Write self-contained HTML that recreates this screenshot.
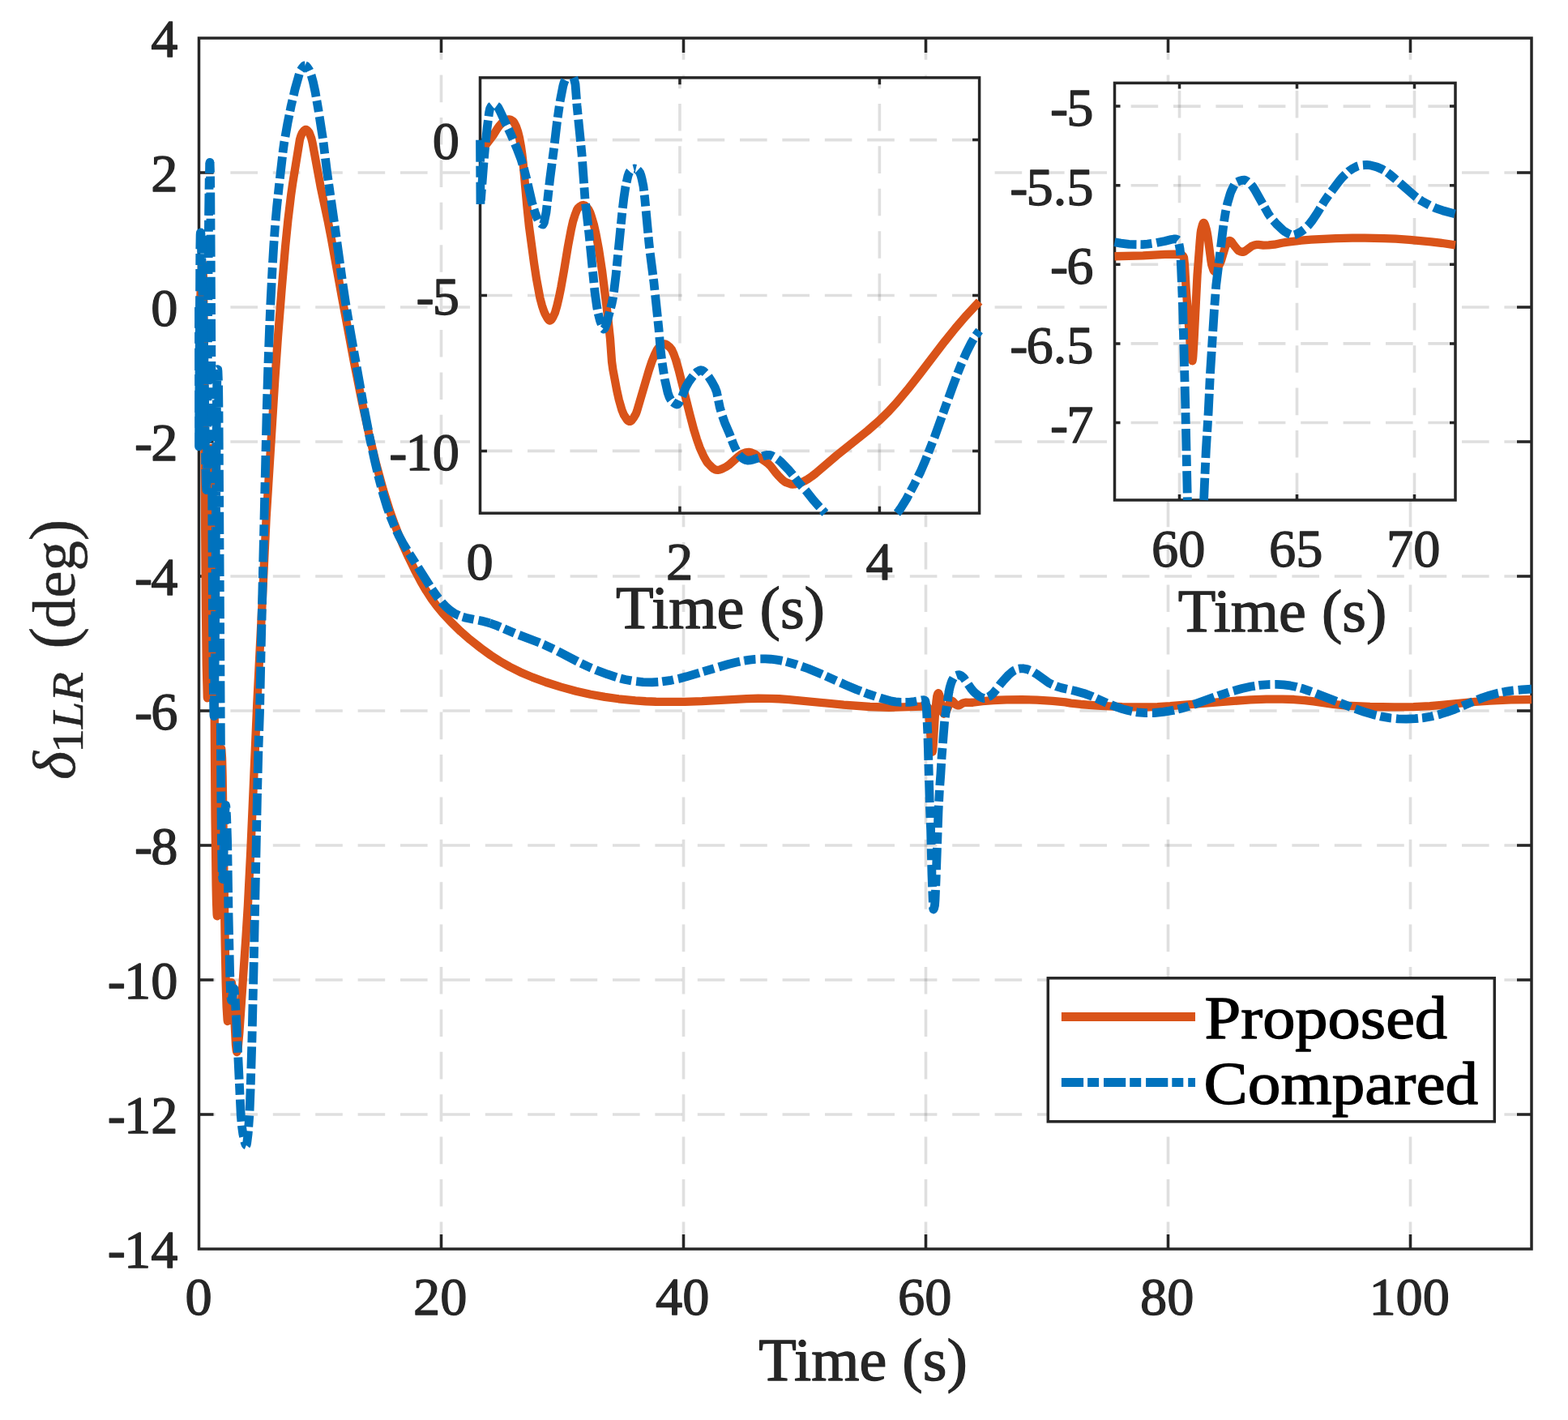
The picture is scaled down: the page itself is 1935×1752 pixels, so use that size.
<!DOCTYPE html><html><head><meta charset="utf-8"><title>Figure</title><style>html,body{margin:0;padding:0;background:#fff}svg{display:block}</style></head><body><svg xmlns="http://www.w3.org/2000/svg" width="1935" height="1752" viewBox="0 0 1935 1752" font-family='"Liberation Serif", "DejaVu Serif", serif'><rect width="1935" height="1752" fill="#fff"/><g id="main"><g stroke="#262626" stroke-opacity="0.15" stroke-width="3.6" stroke-dasharray="33.6 18.8" fill="none"><line x1="544.5" y1="1541" x2="544.5" y2="47"/><line x1="843.5" y1="1541" x2="843.5" y2="47"/><line x1="1142.5" y1="1541" x2="1142.5" y2="47"/><line x1="1441.5" y1="1541" x2="1441.5" y2="47"/><line x1="1740.5" y1="1541" x2="1740.5" y2="47"/><line x1="1890" y1="213" x2="245.5" y2="213"/><line x1="1890" y1="379" x2="245.5" y2="379"/><line x1="1890" y1="545" x2="245.5" y2="545"/><line x1="1890" y1="711" x2="245.5" y2="711"/><line x1="1890" y1="877" x2="245.5" y2="877"/><line x1="1890" y1="1043" x2="245.5" y2="1043"/><line x1="1890" y1="1209" x2="245.5" y2="1209"/><line x1="1890" y1="1375" x2="245.5" y2="1375"/></g><g stroke="#262626" stroke-width="3.5" fill="none" stroke-linecap="butt" stroke-linejoin="miter"><rect x="245.5" y="47" width="1644.5" height="1494" fill="none"/><path d="M544.5,1541 v-18 M544.5,47 v18"/><path d="M843.5,1541 v-18 M843.5,47 v18"/><path d="M1142.5,1541 v-18 M1142.5,47 v18"/><path d="M1441.5,1541 v-18 M1441.5,47 v18"/><path d="M1740.5,1541 v-18 M1740.5,47 v18"/><path d="M245.5,213 h18 M1890,213 h-18"/><path d="M245.5,379 h18 M1890,379 h-18"/><path d="M245.5,545 h18 M1890,545 h-18"/><path d="M245.5,711 h18 M1890,711 h-18"/><path d="M245.5,877 h18 M1890,877 h-18"/><path d="M245.5,1043 h18 M1890,1043 h-18"/><path d="M245.5,1209 h18 M1890,1209 h-18"/><path d="M245.5,1375 h18 M1890,1375 h-18"/></g><path d="M245.5,404.73 L246.4,391.45 L248.34,342.25 L249.08,329.48 L249.54,325.27 L249.81,324.29 L249.99,324.81 L250.43,329.31 L250.88,342.66 L251.78,416.17 L252.83,608.97 L253.93,749.67 L254.77,821.1 L255.82,860.26 L255.97,861.24 L256.11,859.72 L256.41,851.54 L257.01,821.54 L259.1,620.42 L259.85,571.94 L260.24,559.36 L260.9,552.95 L261.35,556.45 L261.8,566.38 L262.54,605.99 L263.44,689.23 L265.53,1006.9 L266.58,1091.46 L267.03,1112.75 L267.63,1128.08 L267.88,1130.28 L268.07,1129.06 L268.82,1109.93 L270.92,985.88 L271.81,944.82 L272.56,928.13 L273.01,923.7 L273.16,923.59 L273.31,924.26 L274.07,935.65 L274.65,958.37 L277.71,1164.88 L278.68,1212.46 L279.65,1242.74 L280.63,1258.31 L280.93,1259.99 L281.38,1258.97 L282.58,1248.62 L284.67,1217.45 L285.42,1212.54 L285.72,1212.05 L286.01,1212.96 L286.61,1217.19 L288.7,1244.03 L290.95,1288.93 L291.7,1295.79 L292.29,1298.1 L292.89,1296.57 L293.79,1291.44 L295.28,1275.15 L303.43,1156.23 L305.9,1117.06 L309.19,1052.13 L317.26,868.6 L324.14,733.35 L328.62,638.99 L339.39,466.82 L342.97,415.61 L347.61,356.79 L352.09,304.5 L355.38,271.83 L359.12,240.75 L361.21,226.11 L370.03,171.92 L371.38,167.57 L373.02,163.9 L375.12,161.27 L376.91,159.98 L377.96,160 L379,160.63 L380.8,162.5 L381.69,163.89 L384.2,170.5 L385.58,176.13 L395.9,231.8 L404.72,273.2 L408.46,292.16 L421.61,364.71 L437.01,447.36 L447.32,498.73 L455.4,535.91 L464.52,573.63 L472.89,604.38 L481.11,630.48 L486.2,644.82 L490.53,656.2 L496.81,671.29 L504.28,687.77 L512.21,704.01 L519.53,717.81 L525.96,728.79 L532.54,738.84 L539.27,747.98 L546.74,757 L557.06,768.08 L568.57,779.18 L579.93,789.02 L593.69,799.85 L605.65,808.52 L617.01,815.87 L629.12,822.76 L641.97,829.15 L657.07,835.64 L673.67,841.76 L692.21,847.65 L710.89,852.71 L728.68,856.72 L746.33,859.92 L763.37,862.26 L784,864.32 L797.01,865.26 L809.56,865.77 L826.01,865.97 L845.14,865.88 L866.37,865.19 L921.39,862.08 L935.59,861.74 L949.65,861.82 L961.46,862.25 L973.57,863.08 L1041.14,869.64 L1073.58,871.99 L1097.05,872.75 L1113.95,872.47 L1137.27,871.62 L1140.86,871.63 L1143.79,871.98 L1144.59,872.34 L1145.23,873.05 L1145.64,875.3 L1149.53,921.02 L1150.27,926.19 L1150.75,927.6 L1151.17,925 L1151.78,916.84 L1153.86,882.55 L1155.51,864.81 L1156.25,859.05 L1157.15,856.2 L1157.97,855.14 L1158.35,855.41 L1158.94,856.63 L1160.14,860.5 L1162.98,877.1 L1164.03,879.75 L1164.92,880.7 L1165.52,880.42 L1166.12,879.76 L1168.51,876.1 L1172.4,866.13 L1173.6,864.89 L1174.49,864.5 L1175.54,865.02 L1179.88,869.65 L1182.57,870.45 L1184.06,870.08 L1188.4,867.44 L1191.54,866.61 L1196.02,866.96 L1200.36,866.77 L1212.32,865.12 L1225.62,864.02 L1242.37,863.3 L1261.05,863.11 L1279.44,863.54 L1299.18,864.85 L1314.72,866.39 L1321.6,867.58 L1333.71,868.99 L1358.53,870.87 L1384.84,872.07 L1412.05,872.36 L1428.34,872.06 L1444.19,871.22 L1505.79,866.03 L1543.01,863.47 L1562.74,862.65 L1582.63,862.55 L1596.98,863.02 L1610.14,864.03 L1621.2,865.38 L1645.27,868.97 L1661.71,870.55 L1690.57,872 L1720.77,872.38 L1744.24,872.04 L1764.57,871.09 L1779.22,869.89 L1820.33,865.79 L1838.42,864.49 L1864.59,863.38 L1890,863.03" fill="none" stroke="#D95319" stroke-width="10.3" stroke-linejoin="round" stroke-linecap="butt"/><g fill="none" stroke="#0072BD" stroke-width="10.8" stroke-linejoin="round" stroke-linecap="butt" stroke-dasharray="27.2 5 14 5.9"><path d="M245.5,379 L245.56,550.81 L246.85,305.98 L247.14,289.75 L247.32,287.31 L247.74,286.87 L247.89,287.59 L248.49,302.48 L251.03,402.75 L252.08,456.56 L253.72,573.4 L254.32,597.28 L254.92,604.72 L255.39,572.34 L257.57,265.25 L258.21,219.69 L258.81,202.05 L258.95,200.37 L259.1,201.7" stroke-dashoffset="1.38"/><path d="M258.95,200.37 L259.4,209.37 L259.76,230.65 L262.54,764.62 L263.14,839.49 L263.89,881.83 L264.04,883.6 L264.19,880.23 L264.49,866.45 L265.38,801.31 L267.48,486.38 L267.93,463.4 L268.52,455.72 L268.67,455.63 L268.97,457.95 L269.57,473.29 L270.02,511.46 L272.71,968.54 L273.34,1035.13 L274.05,1072.22 L274.5,1081 L274.95,1084.79 L275.1,1084.18 L277.19,1012.93 L277.94,998.51 L278.54,993.48 L278.84,994.73 L279.59,1007.64 L280.63,1038.52 L282.07,1130.93 L283.62,1199.44 L284.52,1224.34 L285.12,1231.92 L285.57,1234.29 L286.46,1231.66 L288.41,1220.08 L288.7,1219.6 L288.86,1219.84 L289.3,1222.84 L290.2,1232.98 L291.55,1256.5 L297.28,1376.6 L298.57,1390.31 L299.77,1398.79 L302.16,1409.67 L303.06,1412.15 L303.51,1412.81 L303.95,1412.99" stroke-dashoffset="14.94"/><path d="M303.81,1412.99 L304.25,1412.44 L304.7,1410.36 L306.2,1398.24 L307.92,1374.65 L309.19,1341.51 L310.98,1281.56 L313.22,1186.65 L317.51,978.9 L318.9,925.06 L320.55,877.65 L322,807.8 L329.37,499.48" stroke-dashoffset="9.31"/><path d="M329.22,504.85 L330.7,456 L332.51,406.47 L334,371.97 L336.1,331.25 L337.89,301.21 L339.69,276.44 L341.63,255.06 L344.62,226.97 L349.25,186.42 L350.6,176.52 L354.93,151.99 L359.12,131.12 L364.05,110.08 L369.58,90.34 L370.93,87.07 L373.47,83.12 L375.12,81.38 L375.86,80.99 L376.61,80.91" stroke-dashoffset="27.6"/><path d="M376.46,80.9 L377.81,81.48 L379.3,83.08 L381.69,86.76 L382.89,89.33 L384.39,93.81 L386.33,100.96 L389.02,113.24 L393.06,136.61 L398.74,173.01 L403.22,209.64 L413.54,281.69 L422.66,348.03 L426.99,376.75 L432.38,409.01 L448.67,500.6 L456.74,542.17 L462.42,568.29 L467.81,590.9 L472.89,609.98 L477.82,626.09 L481.86,637.46 L487.24,650.54 L491.73,660.06 L496.81,669.44 L502.49,678.81 L532.84,726.58 L539.57,736.25 L545.7,743.82 L550.63,748.93 L555.71,753.27 L560.8,756.7 L566.18,759.42 L570.21,760.93 L574.85,762.25 L594.28,766.08 L604.45,768.8" stroke-dashoffset="37.56"/><path d="M604.3,768.76 L613.87,772.2 L637.79,782.36 L661.86,791.47 L672.32,795.8 L685.33,801.98 L715.98,817.94 L725.54,822.39 L735.71,826.68 L749.61,831.97 L760.98,835.71 L771.59,838.45 L782.21,840.41 L793.57,841.63 L804.63,841.85 L816.29,841.07 L828.25,839.32 L837.22,837.41 L847.09,834.83 L898.82,819.51 L908.98,816.99 L918.4,815.09" stroke-dashoffset="13.11"/><path d="M918.25,815.12 L925.28,814.04 L931.85,813.33 L938.28,812.96 L944.56,812.93 L950.84,813.24 L956.97,813.89 L963.25,814.9 L969.83,816.29 L983.13,819.98 L997.49,825.03 L1012.58,831.24 L1043.53,845.06 L1056.99,850.77 L1071.34,856.25 L1086.59,861.27 L1100.34,865.09 L1105.12,865.88 L1111.11,866.47 L1122.17,866.33 L1128.45,865.55 L1137.87,863.79 L1140.11,863.67 L1141.6,864.26 L1142.65,868.03" stroke-dashoffset="31.89"/><path d="M1142.5,867.35 L1143.1,870.89 L1143.4,874.49 L1144.87,905.57 L1147.43,995.43 L1148.63,1024.43 L1149.97,1079.04 L1151.47,1118.2 L1151.62,1120.76 L1151.92,1121.97 L1152.67,1120.56 L1153.5,1117 L1154.01,1110.56 L1155.06,1085.96 L1158.02,1000.61 L1159.39,974.67 L1160.89,954.59 L1162.09,933.98 L1165.67,889.22 L1171.06,853.15" stroke-dashoffset="8.58"/><path d="M1170.9,853.98 L1172.25,847.75 L1173.6,843.17 L1175.09,839.28 L1176.74,836.33 L1177.93,834.66 L1178.83,833.9 L1181.67,832.9 L1183.91,832.73 L1186.15,833.73 L1189.14,836.17 L1199.16,850.56 L1201.25,852.99 L1203.94,855.55 L1208.28,859 L1211.27,860.56 L1214.26,861.49 L1216.65,861.19 L1220.99,859.18 L1225.32,855.7 L1230.11,850.08 L1234.74,843.83 L1237.58,840.42 L1244.61,832.75 L1248.35,829.45 L1251.49,827.3 L1255.52,825.49 L1258.21,824.96 L1262.4,824.77 L1268.23,825.88 L1273.46,828.01 L1278.84,831.48 L1293.79,842.16 L1297.83,844.3 L1303.51,846.75 L1309.64,848.63 L1326.83,852.5 L1337.45,855.44 L1347.17,859.02 L1368.1,868.39 L1379.01,872.67 L1385.59,874.83 L1391.87,876.57 L1397.85,877.9 L1403.68,878.85 L1413.69,879.65 L1424.46,879.5 L1435.67,878.44 L1447.78,876.42 L1457.05,874.3 L1466.32,871.63 L1507.28,857.03 L1520.59,852.83 L1532.7,849.5 L1543.91,847.02 L1554.37,845.42 L1564.99,844.54 L1575.45,844.43 L1584.12,844.92 L1592.2,845.94 L1599.97,847.51 L1608.19,849.79 L1622.84,854.99 L1671.13,874.04 L1683.54,878.34 L1694.75,881.66 L1705.37,884.15 L1715.68,885.89 L1725.4,886.83 L1735.72,887.1 L1746.48,886.72 L1756.5,885.69 L1766.21,883.99 L1776.23,881.5 L1785.35,878.66 L1795.22,875.07 L1821.53,864.02 L1829.6,860.86 L1838.42,857.92 L1847.39,855.5 L1857.26,853.46 L1867.58,851.91 L1878.49,850.83 L1890,850.23" stroke-dashoffset="8.79"/></g><text x="219.5" y="69.8" font-size="66.4" text-anchor="end" fill="#262626" stroke="#262626" stroke-width="1.3" stroke-linejoin="round">4</text><text x="219.5" y="235.8" font-size="66.4" text-anchor="end" fill="#262626" stroke="#262626" stroke-width="1.3" stroke-linejoin="round">2</text><text x="219.5" y="401.8" font-size="66.4" text-anchor="end" fill="#262626" stroke="#262626" stroke-width="1.3" stroke-linejoin="round">0</text><text x="219.5" y="567.8" font-size="66.4" text-anchor="end" fill="#262626" stroke="#262626" stroke-width="1.3" stroke-linejoin="round">-<tspan dx="-1.8">2</tspan></text><text x="219.5" y="733.8" font-size="66.4" text-anchor="end" fill="#262626" stroke="#262626" stroke-width="1.3" stroke-linejoin="round">-<tspan dx="-1.8">4</tspan></text><text x="219.5" y="899.8" font-size="66.4" text-anchor="end" fill="#262626" stroke="#262626" stroke-width="1.3" stroke-linejoin="round">-<tspan dx="-1.8">6</tspan></text><text x="219.5" y="1065.8" font-size="66.4" text-anchor="end" fill="#262626" stroke="#262626" stroke-width="1.3" stroke-linejoin="round">-<tspan dx="-1.8">8</tspan></text><text x="219.5" y="1231.8" font-size="66.4" text-anchor="end" fill="#262626" stroke="#262626" stroke-width="1.3" stroke-linejoin="round">-<tspan dx="-1.8">10</tspan></text><text x="219.5" y="1397.8" font-size="66.4" text-anchor="end" fill="#262626" stroke="#262626" stroke-width="1.3" stroke-linejoin="round">-<tspan dx="-1.8">12</tspan></text><text x="219.5" y="1563.8" font-size="66.4" text-anchor="end" fill="#262626" stroke="#262626" stroke-width="1.3" stroke-linejoin="round">-<tspan dx="-1.8">14</tspan></text><text x="245.2" y="1621.8" font-size="66.4" text-anchor="middle" fill="#262626" stroke="#262626" stroke-width="1.3" stroke-linejoin="round">0</text><text x="543.2" y="1621.8" font-size="66.4" text-anchor="middle" fill="#262626" stroke="#262626" stroke-width="1.3" stroke-linejoin="round">20</text><text x="842.2" y="1621.8" font-size="66.4" text-anchor="middle" fill="#262626" stroke="#262626" stroke-width="1.3" stroke-linejoin="round">40</text><text x="1141.2" y="1621.8" font-size="66.4" text-anchor="middle" fill="#262626" stroke="#262626" stroke-width="1.3" stroke-linejoin="round">60</text><text x="1440.2" y="1621.8" font-size="66.4" text-anchor="middle" fill="#262626" stroke="#262626" stroke-width="1.3" stroke-linejoin="round">80</text><text x="1739.2" y="1621.8" font-size="66.4" text-anchor="middle" fill="#262626" stroke="#262626" stroke-width="1.3" stroke-linejoin="round">100</text><text x="1065" y="1703.1" font-size="73.2" text-anchor="middle" fill="#262626" stroke="#262626" stroke-width="1.3" stroke-linejoin="round" textLength="257.5" lengthAdjust="spacingAndGlyphs">Time (s)</text><g transform="translate(92.4,0) rotate(-90)" fill="#262626" stroke="#262626" stroke-width="0.5"><text x="-962" y="0" font-size="75" font-style="italic">δ</text><text x="-929" y="10" font-size="54" textLength="100" lengthAdjust="spacingAndGlyphs">1<tspan font-style="italic">LR</tspan></text><text x="-800.5" y="0" font-size="80">(</text><text x="-775.3" y="0" font-size="75">deg</text><text x="-667.3" y="0" font-size="80">)</text></g></g><g id="inset1"><rect x="592.5" y="95.84" width="616.1" height="537.32" fill="#fff"/><g stroke="#262626" stroke-opacity="0.15" stroke-width="3.6" stroke-dasharray="33.6 18.8" fill="none"><line x1="838.94" y1="633.16" x2="838.94" y2="95.84"/><line x1="1085.38" y1="633.16" x2="1085.38" y2="95.84"/><line x1="1208.6" y1="172.6" x2="592.5" y2="172.6"/><line x1="1208.6" y1="364.5" x2="592.5" y2="364.5"/><line x1="1208.6" y1="556.4" x2="592.5" y2="556.4"/></g><g stroke="#262626" stroke-width="3.5" fill="none" stroke-linecap="butt" stroke-linejoin="miter"><rect x="592.5" y="95.84" width="616.1" height="537.32" fill="none"/><path d="M838.94,633.16 v-8.5 M838.94,95.84 v8.5"/><path d="M1085.38,633.16 v-8.5 M1085.38,95.84 v8.5"/><path d="M592.5,172.6 h8.5 M1208.6,172.6 h-8.5"/><path d="M592.5,364.5 h8.5 M1208.6,364.5 h-8.5"/><path d="M592.5,556.4 h8.5 M1208.6,556.4 h-8.5"/></g><path d="M592.5,184.5 L596.2,181.98 L599.89,178.36 L609,166.4 L613.45,159.17 L615.91,155.61 L619.61,151.54 L622,149.7 L625.77,147.75 L628,147.3 L629.47,147.54 L630.7,148.05 L633.16,149.62 L634.39,151.08 L636.86,155.8 L639.32,163.23 L641,170 L643.02,181.13 L644.25,189.79 L645.48,200 L650.41,254.73 L652.88,278.94 L659.04,324.61 L662,344 L666.43,367.7 L668.9,377.03 L671.36,384.34 L672.59,387.3 L675.06,391.78 L676.29,393.73 L677.52,395.14 L678.75,395.59 L679.99,394.89 L681.22,393.29 L682.45,391.11 L684.91,385.81 L687.38,377.24 L690,366 L692.31,354.72 L696,333.97 L700.93,303.91 L704.63,284.23 L707.09,273.14 L709.56,265.25 L712.02,258.93 L713.26,256.81 L715.72,254.68 L718.18,253.34 L720,253 L721.88,253.65 L723.11,254.65 L726,258 L728.04,261.87 L729.27,265.2 L732.97,277.56 L735.44,288.6 L739.13,308.44 L743,334 L750,390 L753,418 L755,446 L756.38,456.15 L761.31,482.09 L763.78,493.15 L767.47,505.98 L769.94,511.89 L773.63,517.64 L774.87,518.98 L776.1,519.81 L777.33,519.97 L778.56,519.44 L779.79,518.32 L782.26,514.88 L784.72,510.59 L785.96,507.41 L800.74,457.12 L804.44,446 L808.13,436.94 L810.6,431.93 L811.83,430.19 L815.53,426.52 L817.99,424.88 L819.22,424.48 L820.46,424.43 L822.92,425.35 L826.62,428.51 L829.08,431.55 L831.55,437.1 L834.01,444.03 L837.71,457.01 L851.26,511.15 L856.19,529.87 L859.89,541.85 L863.58,552.29 L868.51,563.24 L872.21,569.74 L874,572 L878.37,576.45 L880.83,578.46 L883.3,579.72 L885.76,579.97 L888.23,579.51 L890.69,578.61 L896,576 L899.32,573.79 L911.64,562.96 L914.1,561.04 L916,560 L920.27,558.36 L923.96,557.81 L927.66,558.62 L931.36,560.19 L936.7,564.3 L943.68,568.87 L947.37,571.56 L951.07,575.15 L957.23,583.1 L960.5,586.9 L965.86,592.3 L968.32,594.27 L970,595.2 L975.71,597.28 L978.18,597.6 L980.64,597.41 L984.34,596.56 L989.27,595.03 L992.96,593.36 L996.66,591.34 L1002,587.6 L1006.52,584.08 L1032.4,562.03 L1070.59,531.5 L1084.15,519.71 L1096.47,507.71 L1106.33,496.99 L1119.88,480.81 L1134.67,462 L1165.47,421.74 L1179.03,404.89 L1191.35,390.48 L1208.6,372" fill="none" stroke="#D95319" stroke-width="10.3" stroke-linejoin="round" stroke-linecap="butt"/><g fill="none" stroke="#0072BD" stroke-width="10.8" stroke-linejoin="round" stroke-linecap="butt" stroke-dasharray="27.2 5 14 5.9"><path d="M592.5,172.6 L592.99,252.05 L597,200 L598.66,181.35 L601.13,158 L603.59,138.83 L604.6,134 L606.05,131.33 L607.5,130.2 L611,130 L612.22,130.33 L614,131.6 L614.68,132.47 L617.14,137.22 L630.7,166.28 L638.09,183.58 L643.02,196.59 L646.72,208.46 L650.41,223.21 L656.57,250.05 L660.27,262.49 L662.74,268.69 L665.2,273.53 L667.66,275.97 L668.9,276.74 L670.13,276.98" stroke-dashoffset="0"/><path d="M668.9,276.74 L670.13,276.98 L671.36,274.62 L674,262 L678.75,220.11 L684,180 L687.38,150.82 L691.08,125.22 L694.77,106.29 L696,101.99 L697.24,98.93 L698.85,95.84" stroke-dashoffset="1.67"/><path d="M707.82,95.84 L708.33,97.03 L710,104 L712.02,130.27 L718,190 L722,246 L726.81,287.68 L734,360 L736.67,378.9 L738,386 L740.36,395.25 L744.06,405.11 L745,406 L745.29,405.93 L746.52,404.37" stroke-dashoffset="0"/><path d="M745.29,405.93 L746.52,404.37 L749,398 L755.15,374.04 L756.38,367.88 L757.61,359.62 L760.08,339.32 L768,260 L769.94,243.68 L772,230 L774.87,217.27 L776.1,213.59 L777,212 L778.56,210.35 L781.03,208.51 L783,208 L784.72,208.39" stroke-dashoffset="4.69"/><path d="M783.49,208.03 L784.72,208.39 L785.96,209.11 L788.42,211.35 L789.65,213.01 L790.88,216.2 L792.12,220.83 L794,230 L795.81,245.63 L800.74,298.26 L802,310 L806.9,347.99 L813,406 L815,430 L816.76,445.21 L820.46,468.62 L824.15,484.75 L826,490 L827.85,493.15 L830.31,496.19" stroke-dashoffset="47.99"/><path d="M830.31,496.19 L832.78,497.96 L835.24,498.97 L836.48,498.68 L837.71,497.17 L841.4,490.06 L846.4,477.5 L850.03,471.11 L854.96,464.18" stroke-dashoffset="34.41"/><path d="M853.73,465.73 L857.42,461.26 L859.89,459.07 L863.58,457.06 L864.82,456.74 L866.05,456.78 L867.28,457.32 L868.51,458.22 L872.21,461.75 L874.67,465.04 L878.37,470.93 L882.07,477.57 L884.4,483.5 L888.23,502.2 L890.69,510.89 L894.39,521.61 L900.55,535.88 L904.25,546.09 L906.71,551.98 L910.41,558.98 L911.7,560.8 L914.1,563.49 L916.57,565.53 L919.03,567 L920.27,567.61 L922.4,568.1 L925.19,567.87 L928.89,567.21 L936.28,564.84 L943.68,562.12 L947.37,561.36 L949.84,561.41 L952.3,562.2 L958.46,565.72 L960.93,567.49 L963.39,569.65 L973.25,579.73 L978.3,585.7 L985.57,595.41 L994.9,605.9 L1004.4,617.8 L1010.22,624.42 L1018.41,633.16" stroke-dashoffset="24.78"/><path d="M1106.84,633.16 L1108.79,630.96 L1111.26,627.53 L1118.65,615.57 L1128.51,597.22 L1136,582 L1142.06,567.8 L1153.15,539.61 L1175.33,477.81 L1181.49,461.32 L1186,450 L1192.58,435 L1198.74,422.8 L1203.67,414.49 L1208.6,408" stroke-dashoffset="0"/></g><text x="567" y="196.4" font-size="66.4" text-anchor="end" fill="#262626" stroke="#262626" stroke-width="1.3" stroke-linejoin="round">0</text><text x="567" y="388.3" font-size="66.4" text-anchor="end" fill="#262626" stroke="#262626" stroke-width="1.3" stroke-linejoin="round">-<tspan dx="-1.8">5</tspan></text><text x="567" y="580.2" font-size="66.4" text-anchor="end" fill="#262626" stroke="#262626" stroke-width="1.3" stroke-linejoin="round">-<tspan dx="-1.8">10</tspan></text><text x="592.2" y="714.9" font-size="66.4" text-anchor="middle" fill="#262626" stroke="#262626" stroke-width="1.3" stroke-linejoin="round">0</text><text x="838.64" y="714.9" font-size="66.4" text-anchor="middle" fill="#262626" stroke="#262626" stroke-width="1.3" stroke-linejoin="round">2</text><text x="1085.08" y="714.9" font-size="66.4" text-anchor="middle" fill="#262626" stroke="#262626" stroke-width="1.3" stroke-linejoin="round">4</text><text x="889" y="774.6" font-size="73.2" text-anchor="middle" fill="#262626" stroke="#262626" stroke-width="1.3" stroke-linejoin="round" textLength="258" lengthAdjust="spacingAndGlyphs">Time (s)</text></g><g id="inset2"><rect x="1375.5" y="102.4" width="420.5" height="514.6" fill="#fff"/><g stroke="#262626" stroke-opacity="0.15" stroke-width="3.6" stroke-dasharray="33.6 18.8" fill="none"><line x1="1455.5" y1="617" x2="1455.5" y2="102.4"/><line x1="1600.5" y1="617" x2="1600.5" y2="102.4"/><line x1="1745.5" y1="617" x2="1745.5" y2="102.4"/><line x1="1796" y1="131.1" x2="1375.5" y2="131.1"/><line x1="1796" y1="228.7" x2="1375.5" y2="228.7"/><line x1="1796" y1="326.3" x2="1375.5" y2="326.3"/><line x1="1796" y1="423.9" x2="1375.5" y2="423.9"/><line x1="1796" y1="521.5" x2="1375.5" y2="521.5"/></g><g stroke="#262626" stroke-width="3.5" fill="none" stroke-linecap="butt" stroke-linejoin="miter"><rect x="1375.5" y="102.4" width="420.5" height="514.6" fill="none"/><path d="M1455.5,617 v-7 M1455.5,102.4 v7"/><path d="M1600.5,617 v-7 M1600.5,102.4 v7"/><path d="M1745.5,617 v-7 M1745.5,102.4 v7"/><path d="M1375.5,131.1 h7 M1796,131.1 h-7"/><path d="M1375.5,228.7 h7 M1796,228.7 h-7"/><path d="M1375.5,326.3 h7 M1796,326.3 h-7"/><path d="M1375.5,423.9 h7 M1796,423.9 h-7"/><path d="M1375.5,521.5 h7 M1796,521.5 h-7"/></g><path d="M1375.5,316.27 L1410.55,315.28 L1437.52,313.9 L1449.41,313.6 L1453.76,313.8 L1457.82,314.46 L1458.98,314.9 L1460.14,315.98 L1461.01,317.71 L1462,326.7 L1463.62,355.21 L1469.13,429.83 L1470.58,441.98 L1471.16,444.79 L1471.5,445.3 L1472.03,442.55 L1472.32,439.18 L1473.5,420 L1477.54,339.35 L1480.73,297.64 L1481.6,288.09 L1482.18,284.09 L1483.92,277.39 L1484.79,275.44 L1485.37,274.92 L1485.66,274.93 L1486.24,275.53 L1487.11,277.53 L1488.56,282.2 L1489.43,285.98 L1490.59,292.64 L1494.36,321.33 L1495.23,326.54 L1497.26,332.76 L1498.13,334.39 L1499,335 L1500.16,334.35 L1501.32,332.78 L1504.22,327.91 L1505.96,324.18 L1507.12,320.95 L1511.76,305.41 L1513.5,300.74 L1514.2,299.6 L1515.82,297.81 L1516.69,297.16 L1517.56,296.9 L1518.43,297.14 L1519.59,298.13 L1523.07,302.96 L1528,309.01 L1530.9,310.4 L1533.51,310.9 L1534.96,310.62 L1536.41,309.85 L1544.53,303.82 L1548.01,302.46 L1550.33,301.89 L1552.94,301.87 L1559.03,302.69 L1565.7,302.42 L1572.66,301.69 L1581.94,299.72 L1587.16,298.87 L1605.72,296.62 L1617.9,295.7 L1648.64,294.09 L1668.94,293.67 L1684.31,293.63 L1707.51,294.06 L1722.3,294.72 L1739.41,295.86 L1766.09,298.39 L1781.75,300.25 L1796,302.42" fill="none" stroke="#D95319" stroke-width="10.3" stroke-linejoin="round" stroke-linecap="butt"/><g fill="none" stroke="#0072BD" stroke-width="10.8" stroke-linejoin="round" stroke-linecap="butt" stroke-dasharray="27.2 5 14 5.9"><path d="M1375.5,298.72 L1383,300.15 L1393.15,301.44 L1410.26,301.6 L1416.06,301.2 L1425.92,299.81 L1437.52,297.45 L1445.35,295.47 L1448.54,294.97 L1450.86,294.96 L1452.89,295.64 L1453.76,296.33 L1454.34,298.02 L1456.08,307.05 L1456.95,315.33 L1459.56,376.78 L1462.75,498.22 L1465.4,617" stroke-dashoffset="0"/><path d="M1485.6,617 L1488.27,555.99 L1491.17,508.77 L1493.49,460.47 L1498.42,382.74 L1500.74,351.94 L1510.02,276.42 L1512.34,261.9 L1514.9,250.2 L1518.14,239.17 L1519.3,236.17 L1521.91,230.65 L1523.36,228.02 L1524.81,225.99 L1526.2,224.8 L1529.74,223.15 L1532.64,222.32 L1535.25,222.11 L1536.99,222.55 L1538.73,223.48 L1543.66,227.55 L1545.98,230.27 L1548.59,234.37 L1564.83,263.19 L1567.44,267.14 L1570.34,270.91 L1575.85,277.05 L1583.68,284.44 L1585.71,285.86 L1590.35,288.38 L1592.67,289.35 L1594.7,289.83 L1596.73,289.83 L1599.05,289.22 L1605.72,285.79 L1610.07,282.46 L1615.29,277.23 L1619.06,272.41 L1625.44,262.99 L1634.43,248.3 L1639.36,241.08 L1652.99,222.96 L1655.89,219.5 L1659.08,216.19 L1664.59,211.12 L1669.23,208.02 L1675.32,204.94 L1677.64,204.25 L1680.25,203.87 L1686.6,203.4 L1690.98,203.86 L1699.1,205.98 L1705.48,208.8 L1709.83,211.27 L1714.18,214.5 L1721.14,220.23 L1746.66,242.5 L1750.14,245.21 L1754.2,247.86 L1764.35,253.45 L1771.89,256.89 L1782.04,260.29 L1796,264.08" stroke-dashoffset="0"/></g><text x="1349.5" y="155.1" font-size="66.4" text-anchor="end" fill="#262626" stroke="#262626" stroke-width="1.3" stroke-linejoin="round">-<tspan dx="-1.8">5</tspan></text><text x="1349.5" y="252.7" font-size="66.4" text-anchor="end" fill="#262626" stroke="#262626" stroke-width="1.3" stroke-linejoin="round">-<tspan dx="-1.8">5.5</tspan></text><text x="1349.5" y="350.3" font-size="66.4" text-anchor="end" fill="#262626" stroke="#262626" stroke-width="1.3" stroke-linejoin="round">-<tspan dx="-1.8">6</tspan></text><text x="1349.5" y="447.9" font-size="66.4" text-anchor="end" fill="#262626" stroke="#262626" stroke-width="1.3" stroke-linejoin="round">-<tspan dx="-1.8">6.5</tspan></text><text x="1349.5" y="545.5" font-size="66.4" text-anchor="end" fill="#262626" stroke="#262626" stroke-width="1.3" stroke-linejoin="round">-<tspan dx="-1.8">7</tspan></text><text x="1454.2" y="699.2" font-size="66.4" text-anchor="middle" fill="#262626" stroke="#262626" stroke-width="1.3" stroke-linejoin="round">60</text><text x="1599.2" y="699.2" font-size="66.4" text-anchor="middle" fill="#262626" stroke="#262626" stroke-width="1.3" stroke-linejoin="round">65</text><text x="1744.2" y="699.2" font-size="66.4" text-anchor="middle" fill="#262626" stroke="#262626" stroke-width="1.3" stroke-linejoin="round">70</text><text x="1582.6" y="779.1" font-size="73.2" text-anchor="middle" fill="#262626" stroke="#262626" stroke-width="1.3" stroke-linejoin="round" textLength="257.5" lengthAdjust="spacingAndGlyphs">Time (s)</text></g><g id="legend"><rect x="1293.3" y="1206.8" width="551" height="177" fill="#fff" stroke="#262626" stroke-width="3.5"/><path d="M1309.9,1254.5 H1475" stroke="#D95319" stroke-width="11" fill="none"/><path d="M1309.9,1335.4 H1475" stroke="#0072BD" stroke-width="11" fill="none" stroke-dasharray="27.2 5 14 5.9"/><text x="1486.6" y="1281" font-size="73.2" text-anchor="start" fill="#000" stroke="#000" stroke-width="1.3" stroke-linejoin="round" textLength="299.5" lengthAdjust="spacingAndGlyphs">Proposed</text><text x="1485.6" y="1362.2" font-size="73.2" text-anchor="start" fill="#000" stroke="#000" stroke-width="1.3" stroke-linejoin="round" textLength="338.5" lengthAdjust="spacingAndGlyphs">Compared</text></g></svg></body></html>
